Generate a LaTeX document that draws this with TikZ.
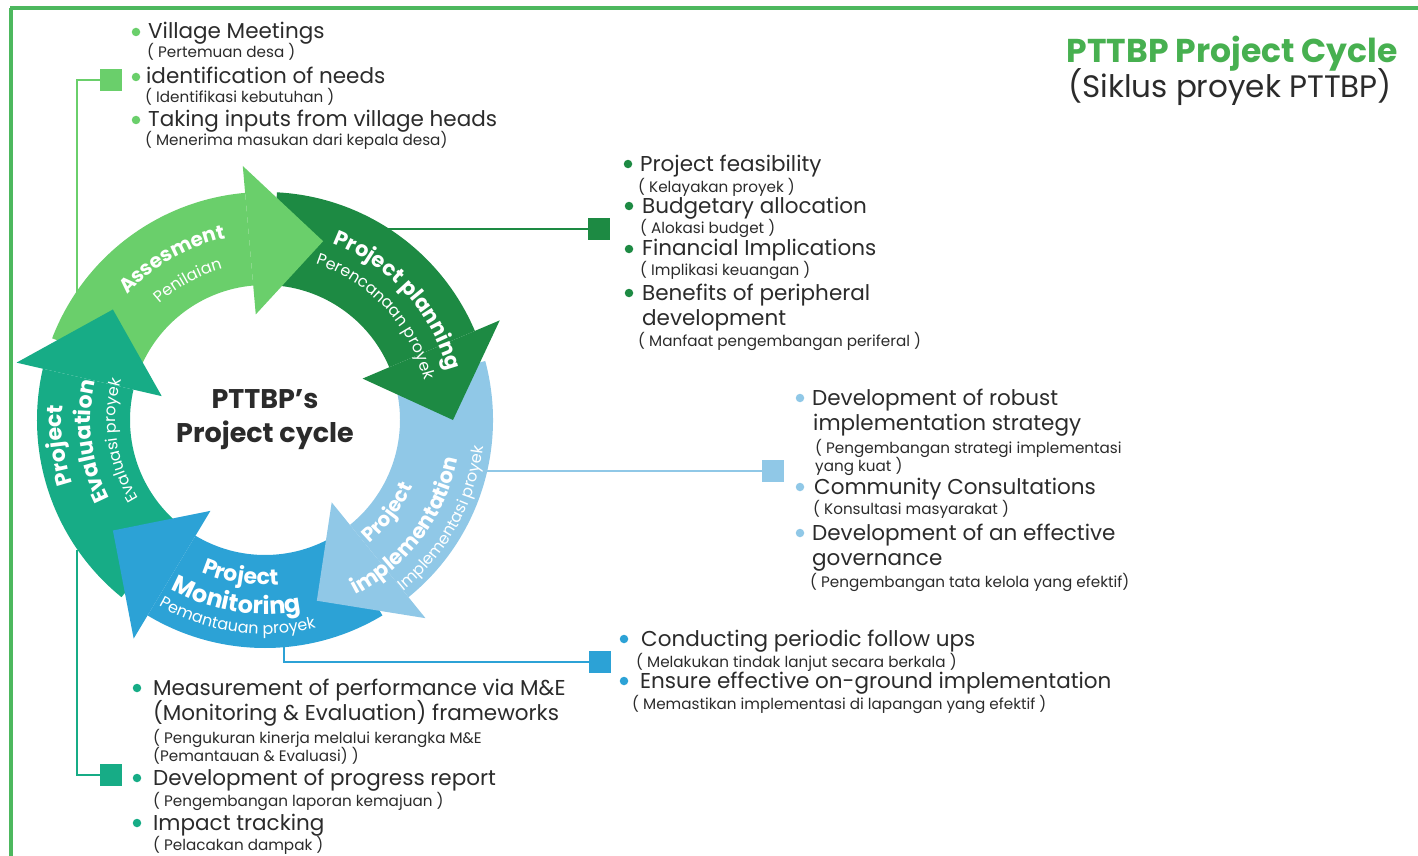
\documentclass[tikz,border=0pt]{standalone}
\usepackage{fontspec}
\setmainfont{Poppins}
\usetikzlibrary{decorations.text}
\definecolor{ag}{HTML}{6ACF6B}
\definecolor{pg}{HTML}{1D8A43}
\definecolor{ib}{HTML}{90C8E7}
\definecolor{mb}{HTML}{2CA2D6}
\definecolor{et}{HTML}{17AC86}
\definecolor{fr}{HTML}{4DB85E}
\definecolor{tg}{HTML}{47B050}
\definecolor{txt}{HTML}{2B2B2B}
\newcommand\fBold{\fontsize{20}{24}\selectfont\bfseries\color{white}}
\newcommand\fPl{\fontsize{21}{25}\selectfont\bfseries\color{white}}
\newcommand\fBig{\fontsize{22}{26}\selectfont\bfseries\color{white}}
\newcommand\fMon{\fontsize{24}{28}\selectfont\bfseries\color{white}}
\newcommand\fSm{\fontsize{16}{19}\selectfont\color{white}}
\newcommand\fSmb{\fontsize{16}{19}\selectfont\color{white}}
\newcommand\segbody[3]{\fill[#1] (#2:228) arc[start angle=#2, end angle=#3, radius=228] -- (#3:135) arc[start angle=#3, end angle=#2, radius=135] -- cycle;}
\newcommand\seghead[2]{\fill[#1] (#2:106) -- (#2:255) -- ({#2-23}:188) -- cycle;}
\newcommand\cwtext[4]{\path[decorate, decoration={text along path, text align=center, text={|#1|#2}}] ({#3+70}:#4) arc[start angle={#3+70}, end angle={#3-70}, radius=#4];}
\newcommand\ccwtext[4]{\path[decorate, decoration={text along path, text align=center, text={|#1|#2}}] ({#3-70}:#4) arc[start angle={#3-70}, end angle={#3+70}, radius=#4];}
\tikzset{
 itm/.style={anchor=base west, inner sep=0pt, text=txt, font=\fontsize{21.5}{24}\selectfont},
 sub/.style={anchor=base west, inner sep=0pt, text=txt, font=\fontsize{15.2}{17}\selectfont},
 dot/.style={circle, fill=#1, inner sep=0pt, minimum size=8.5pt},
 sq/.style={rectangle, fill=#1, inner sep=0pt, minimum size=22pt},
 conn/.style={draw=#1, line width=2.5pt},
}
\begin{document}
\begin{tikzpicture}[x=1pt, y=1pt]
\useasboundingbox (0,0) rectangle (1418,-856);
\fill[white] (0,0) rectangle (1418,-856);
% frame
\draw[fr, line width=4pt] (10,-8) -- (1418,-8);
\draw[fr, line width=4pt] (11,-8) -- (11,-856);
% title
\node[anchor=base east, inner sep=0pt, font=\fontsize{33}{38}\selectfont\bfseries, text=tg] (title) at (1398,-63) {PTTBP Project Cycle};
\node[anchor=base east, inner sep=0pt, font=\fontsize{31}{36}\selectfont, text=txt] (subtitle) at (1392,-98) {(Siklus proyek PTTBP)};
% ring anchor coordinates
\coordinate (ra) at (77,-293);
\coordinate (rp) at (386,-229);
\coordinate (ri) at (487,-471);
\coordinate (rm) at (284,-645);
\coordinate (re) at (77,-550);
% squares
\node[sq=ag] (sa) at (111,-80) {};
\node[sq=pg] (sp) at (599,-229) {};
\node[sq=ib] (si) at (773,-471) {};
\node[sq=mb] (sm) at (600,-662) {};
\node[sq=et] (se) at (111,-775) {};
% connectors
\draw[conn=ag] (sa.west) -| (ra);
\draw[conn=pg] (rp) -- (sp.west);
\draw[conn=ib] (ri) -- (si.west);
\draw[conn=mb] (rm) |- (sm.west);
\draw[conn=et] (re) |- (se.west);
% ring
\begin{scope}[shift={(265,-420)}]
\segbody{ag}{159}{95}
\segbody{pg}{87}{23}
\segbody{ib}{15}{-51}
\segbody{mb}{-59}{-121}
\segbody{et}{-129}{-193}
\seghead{ag}{95}
\seghead{pg}{23}
\seghead{ib}{-51}
\seghead{mb}{-121}
\seghead{et}{-193}
\cwtext{\fBold}{Assesment}{120}{186}
\cwtext{\fSm}{Penilaian}{119}{157}
\cwtext{\fPl}{Project planning}{42}{189}
\cwtext{\fSmb}{Perencanaan proyek}{43}{164}
\ccwtext{\fBold}{Project}{-37}{162}
\ccwtext{\fPl}{implementation}{-37}{197}
\ccwtext{\fSm}{Implementasi proyek}{-29}{220}
\ccwtext{\fBig}{Project}{261}{165}
\ccwtext{\fMon}{Monitoring}{261}{194}
\ccwtext{\fSmb}{Pemantauan proyek}{262}{214}
\cwtext{\fBig}{Project}{187}{203}
\cwtext{\fBig}{Evaluation}{187}{174}
\cwtext{\fSm}{Evaluasi proyek}{188}{149}
\end{scope}
\node[align=center, inner sep=0pt, font=\fontsize{27}{34}\selectfont\bfseries, text=txt] (ctr) at (265,-420) {PTTBP’s\\Project cycle};
% assessment list
\node[dot=ag] (da1) at (136,-32) {};
\node[itm] (a1) at (148,-39) {Village Meetings};
\node[sub] (a1s) at (147,-58) {( Pertemuan desa )};
\node[dot=ag] (da2) at (136,-77) {};
\node[itm] (a2) at (146,-84) {identification of needs};
\node[sub] (a2s) at (145,-103) {( Identifikasi kebutuhan )};
\node[dot=ag] (da3) at (136,-120) {};
\node[itm] (a3) at (148,-127) {Taking inputs from village heads};
\node[sub] (a3s) at (145,-146) {( Menerima masukan dari kepala desa)};
% planning list
\node[dot=pg] (dp1) at (628,-164) {};
\node[itm] (p1) at (640,-171) {Project feasibility};
\node[sub] (p1s) at (638,-192) {( Kelayakan proyek )};
\node[dot=pg] (dp2) at (629,-206) {};
\node[itm] (p2) at (642,-213) {Budgetary allocation};
\node[sub] (p2s) at (640,-233) {( Alokasi budget )};
\node[dot=pg] (dp3) at (629,-249) {};
\node[itm] (p3) at (642,-255) {Financial Implications};
\node[sub] (p3s) at (640,-275) {( Implikasi keuangan )};
\node[dot=pg] (dp4) at (629,-293) {};
\node[itm] (p4) at (642,-300) {Benefits of peripheral};
\node[itm] (p4b) at (642,-325) {development};
\node[sub] (p4s) at (638,-346) {( Manfaat pengembangan periferal )};
% implementation list
\node[dot=ib] (di1) at (800,-398) {};
\node[itm] (i1) at (812,-405) {Development of robust};
\node[itm] (i1b) at (813,-430) {implementation strategy};
\node[sub] (i1s) at (815,-453) {( Pengembangan strategi implementasi};
\node[sub] (i1t) at (815,-471) {yang kuat )};
\node[dot=ib] (di2) at (800,-487) {};
\node[itm] (i2) at (814,-494) {Community Consultations};
\node[sub] (i2s) at (813,-514) {( Konsultasi masyarakat )};
\node[dot=ib] (di3) at (800,-533) {};
\node[itm] (i3) at (812,-540) {Development of an effective};
\node[itm] (i3b) at (812,-565) {governance};
\node[sub] (i3s) at (810,-587) {( Pengembangan tata kelola yang efektif)};
% monitoring list
\node[dot=mb] (dm1) at (624,-639) {};
\node[itm] (m1) at (641,-646) {Conducting periodic follow ups};
\node[sub] (m1s) at (636,-667) {( Melakukan tindak lanjut secara berkala )};
\node[dot=mb] (dm2) at (624,-681) {};
\node[itm] (m2) at (640,-688) {Ensure effective on-ground implementation};
\node[sub] (m2s) at (632,-709) {( Memastikan implementasi di lapangan yang efektif )};
% evaluation list
\node[dot=et] (de1) at (137,-688) {};
\node[itm] (e1) at (153,-695) {Measurement of performance via M\&E};
\node[itm] (e1b) at (153,-720) {(Monitoring \& Evaluation) frameworks};
\node[sub] (e1s) at (153,-743) {( Pengukuran kinerja melalui kerangka M\&E};
\node[sub] (e1t) at (153,-761) {(Pemantauan \& Evaluasi) )};
\node[dot=et] (de2) at (137,-778) {};
\node[itm] (e2) at (153,-785) {Development of progress report};
\node[sub] (e2s) at (153,-806) {( Pengembangan laporan kemajuan )};
\node[dot=et] (de3) at (137,-823) {};
\node[itm] (e3) at (153,-830) {Impact tracking};
\node[sub] (e3s) at (153,-850) {( Pelacakan dampak )};
\end{tikzpicture}
\end{document}
